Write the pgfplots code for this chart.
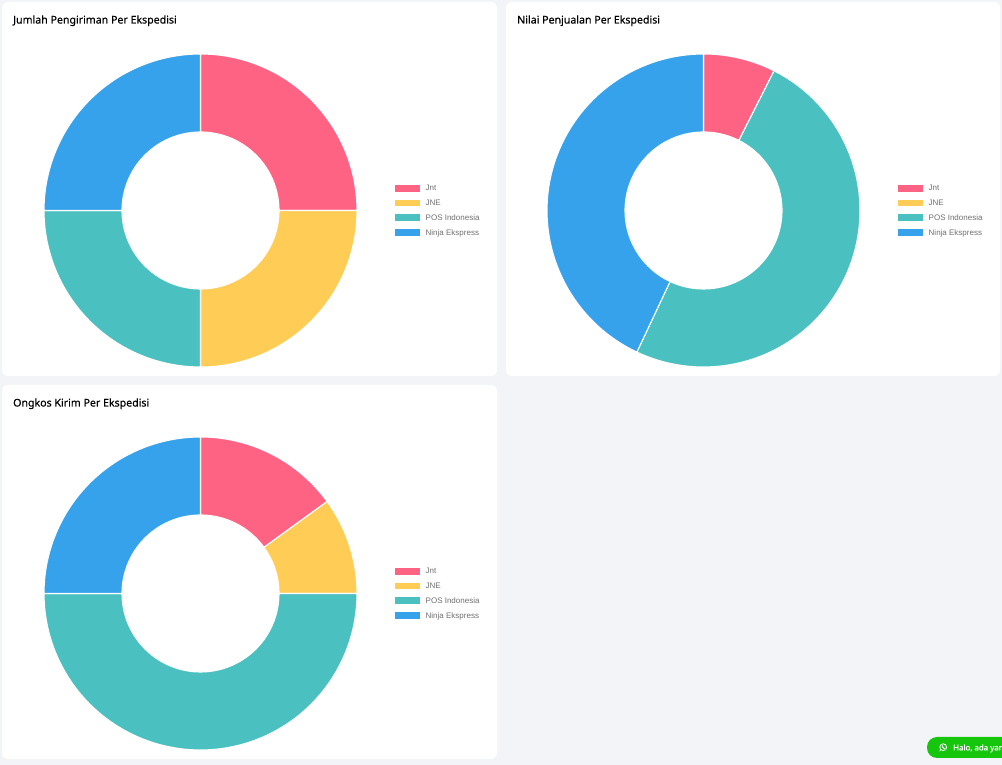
\documentclass[border=0pt]{standalone}
\usepackage{fontspec}
\setmainfont{Liberation Sans}
\newfontfamily\titlefont[FakeBold=0.3]{Noto Sans}
\usepackage{pgfplots}
\pgfplotsset{compat=1.18}

\definecolor{pagebg}{HTML}{F2F4F8}
\definecolor{cJnt}{HTML}{FF6384}
\definecolor{cJne}{HTML}{FFCD56}
\definecolor{cPos}{HTML}{4BC0C0}
\definecolor{cNinja}{HTML}{36A2EB}
\definecolor{legtext}{HTML}{707070}
\definecolor{wagreen}{HTML}{16C60C}

\pgfplotsset{
  donut/.style={
    anchor=center, scale only axis, width=316pt, height=316pt,
    xmin=-158, xmax=158, ymin=-158, ymax=158,
    hide axis, clip=false,
    legend cell align=left,
    legend style={
      at={(1.112,0.5)}, anchor=west, draw=none, fill=none, inner sep=0pt,
      font=\fontsize{8}{10}\selectfont\color{legtext},
      row sep=5.8pt,
      /tikz/every odd column/.append style={column sep=4.5pt},
      nodes={inner sep=0pt, outer sep=0pt, text height=6.5pt, text depth=1.5pt},
    },
    legend image code/.code={
      \fill[##1] (0pt,-4pt) rectangle (26pt,4pt);
    },
  },
}

% one ring slice: share in percent, colour, legend name
\newcommand\slice[3]{%
  \pgfmathsetmacro\aS{90-3.6*\cum}%
  \pgfmathsetmacro\aE{90-3.6*(\cum+#1)}%
  \xdef\pts{}%
  \pgfplotsforeachungrouped \i in {0,...,72}{%
    \pgfmathsetmacro\a{\aS+(\aE-\aS)*\i/72}%
    \xdef\pts{\pts(\a,156.5)}%
  }%
  \pgfplotsforeachungrouped \i in {72,71,...,0}{%
    \pgfmathsetmacro\a{\aS+(\aE-\aS)*\i/72}%
    \xdef\pts{\pts(\a,78.5)}%
  }%
  \edef\temp{\noexpand\addplot[data cs=polar, draw=white, line width=1.1pt, fill=#2] coordinates {\pts} -- cycle;}%
  \temp
  \addlegendentry{#3}%
  \pgfmathsetmacro\newcum{\cum+#1}%
  \xdef\cum{\newcum}%
}

\begin{document}
\begin{tikzpicture}[x=1pt,y=1pt]
\clip (0,0) rectangle (1002,765);
\fill[pagebg] (0,0) rectangle (1002,765);

% cards
\fill[white, rounded corners=6pt] (2,389) rectangle (497,763);
\fill[white, rounded corners=6pt] (506,389) rectangle (1000,763);
\fill[white, rounded corners=6pt] (2,6) rectangle (497,380);

% titles
\node[anchor=base west, inner sep=0pt, font=\titlefont\fontsize{10.6}{12}\selectfont] at (13,741.5) {Jumlah Pengiriman Per Ekspedisi};
\node[anchor=base west, inner sep=0pt, font=\titlefont\fontsize{10.6}{12}\selectfont] at (517,741.5) {Nilai Penjualan Per Ekspedisi};
\node[anchor=base west, inner sep=0pt, font=\titlefont\fontsize{10.6}{12}\selectfont] at (13,358.5) {Ongkos Kirim Per Ekspedisi};

\begin{axis}[donut, at={(200.5,554.5)}]
\xdef\cum{0}
\slice{25}{cJnt}{Jnt}
\slice{25}{cJne}{JNE}
\slice{25}{cPos}{POS Indonesia}
\slice{25}{cNinja}{Ninja Ekspress}
\end{axis}

\begin{axis}[donut, at={(703.5,554.5)}]
\xdef\cum{0}
\slice{7.45}{cJnt}{Jnt}
\slice{0}{cJne}{JNE}
\slice{49.55}{cPos}{POS Indonesia}
\slice{43}{cNinja}{Ninja Ekspress}
\end{axis}

\begin{axis}[donut, at={(200.5,171.5)}]
\xdef\cum{0}
\slice{15}{cJnt}{Jnt}
\slice{10}{cJne}{JNE}
\slice{50}{cPos}{POS Indonesia}
\slice{25}{cNinja}{Ninja Ekspress}
\end{axis}

% chat button, cut by the right edge
\fill[wagreen, rounded corners=10pt] (927,7) rectangle (1030,28);
\draw[white, line width=0.8pt] (943.2,17.8) circle (3.4);
\fill[white] (939.4,13.6) -- (941,14.6) -- (940.2,16) -- cycle;
\fill[white] (941.8,19.4) -- (942.8,19.6) -- (943,18.4) -- (944.4,16.8) -- (945,17) -- (945,16.2) -- (943.6,16.2) -- (941.8,18.2) -- cycle;
\node[anchor=base west, inner sep=0pt, text=white, font=\titlefont\fontsize{7.9}{10}\selectfont] at (953,14.6) {Halo, ada yan};
\end{tikzpicture}
\end{document}
